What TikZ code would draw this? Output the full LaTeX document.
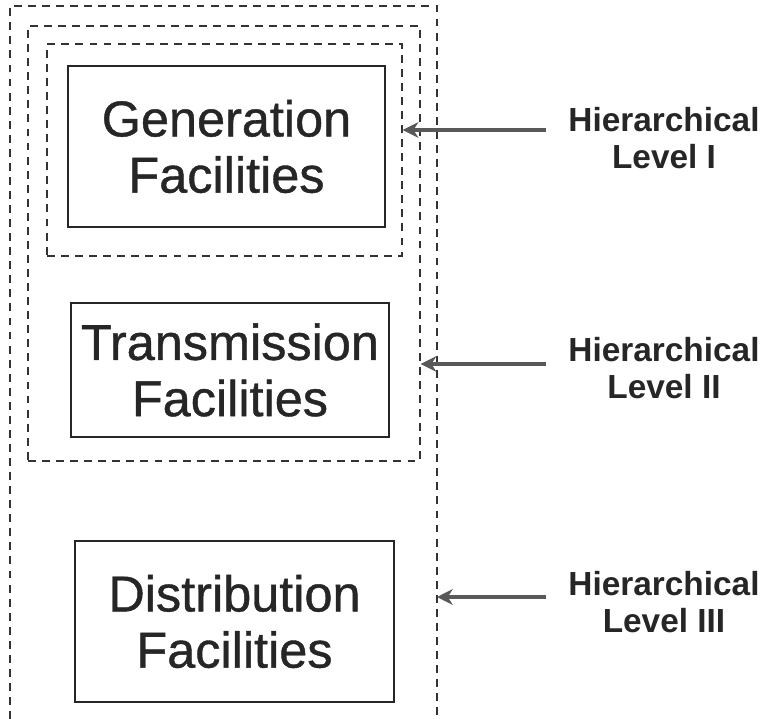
\documentclass[tikz,border=0pt]{standalone}
\usepackage{fontspec}
\setmainfont{Liberation Sans}
\newfontfamily\heavyfont[FakeBold=0.8]{Liberation Sans}
\usetikzlibrary{arrows.meta,calc}
\tikzset{
  facility/.style={draw=black!85,line width=1.1pt,align=center,text=black!85,
    font=\heavyfont\fontsize{28.7}{32}\selectfont,inner sep=0pt},
  frame/.style={draw=black!80,line width=0.8pt,dash pattern=on 4.5pt off 3.5pt},
  levlabel/.style={align=center,text=black!85,font=\bfseries\fontsize{19}{21}\selectfont},
  levarrow/.style={draw=black!65,line width=1.8pt,-{Stealth[length=9pt,width=9pt]}}
}

\begin{document}
\begin{tikzpicture}[x=0.02cm,y=-0.02cm]
      \useasboundingbox (0,0) rectangle (767,719);
      % dashed frames
      \draw[frame] (10,719) |- (437,6) -- (437,719);
      \coordinate (outR) at (437,6);
      \node[frame,minimum width=7.84cm,minimum height=8.7cm] (lvl2) at (224,243.5) {};
      \node[frame,minimum width=7.1cm,minimum height=4.24cm] (lvl1) at (224.5,150) {};
      % facilities
      \node[facility,minimum width=6.34cm,minimum height=3.22cm] (gen) at (226.5,146.5) {Generation\\Facilities};
      \node[facility,minimum width=6.36cm,minimum height=2.68cm] (trans) at (230,370) {Transmission\\Facilities};
      \node[facility,minimum width=6.38cm,minimum height=3.22cm] (dist) at (234.5,621.5) {Distribution\\Facilities};
      % levels
      \node[levlabel] (lab1) at (664,138) {Hierarchical\\Level I};
      \node[levlabel] (lab2) at (664,368) {Hierarchical\\Level II};
      \node[levlabel] (lab3) at (664,602) {Hierarchical\\Level III};
      \coordinate (s1) at ($(lab1.west)+(-16,-8)$);
      \coordinate (s2) at ($(lab2.west)+(-16,-4)$);
      \coordinate (s3) at ($(lab3.west)+(-16,-5)$);
      \draw[levarrow] (s1) -- (lvl1.east |- s1);
      \draw[levarrow] (s2) -- (lvl2.east |- s2);
      \draw[levarrow] (s3) -- (outR |- s3);
\end{tikzpicture}
\end{document}
